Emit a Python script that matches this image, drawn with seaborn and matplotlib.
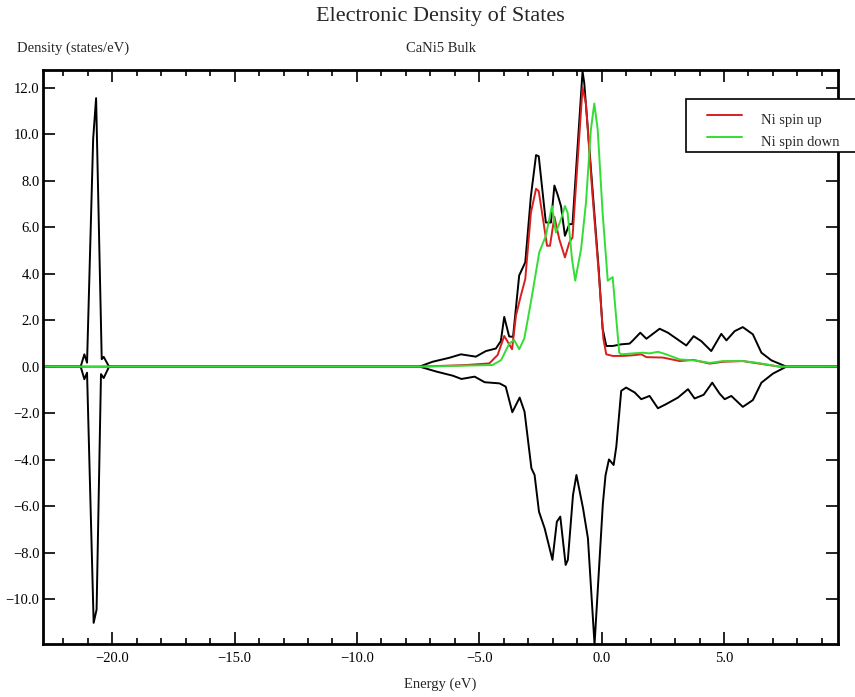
import numpy as np
import pandas as pd
import matplotlib
matplotlib.use("Agg")
import matplotlib.pyplot as plt
import seaborn as sns
from matplotlib.ticker import MultipleLocator, FuncFormatter
from matplotlib.legend_handler import HandlerLine2D
from matplotlib.patches import Rectangle

# ---- density of states data (energies in eV, densities in states/eV) ----
energy_total_up = [-23.0, -21.29, -21.14, -21.03, -20.78, -20.66, -20.43, -20.35, -20.13,
                   -7.45, -6.91, -6.23, -5.75, -5.14, -4.73, -4.32, -4.12, -3.98, -3.78,
                   -3.62, -3.37, -3.12, -2.89, -2.68, -2.57, -2.28, -2.07, -1.93, -1.80,
                   -1.66, -1.50, -1.32, -1.19, -0.78, -0.71, -0.37, -0.12, 0.04, 0.19,
                   0.46, 0.80, 1.14, 1.28, 1.58, 1.83, 2.37, 2.71, 3.46, 3.76, 4.07, 4.48,
                   4.89, 5.10, 5.44, 5.77, 6.18, 6.53, 6.94, 7.55, 10.0]
dos_total_up = [0.0, 0.0, 0.53, 0.17, 9.8, 11.55, 0.32, 0.42, 0.0,
                0.0, 0.21, 0.38, 0.53, 0.43, 0.67, 0.78, 1.1, 2.14, 1.3,
                1.28, 3.92, 4.49, 7.34, 9.1, 9.05, 6.2, 6.2, 7.79, 7.4,
                6.9, 5.63, 6.13, 6.13, 12.7, 12.2, 7.6, 4.2, 1.64, 0.89,
                0.89, 0.96, 0.99, 1.13, 1.46, 1.2, 1.63, 1.46, 0.91, 1.31, 1.1, 0.67,
                1.41, 1.13, 1.53, 1.7, 1.39, 0.6, 0.27, 0.0, 0.0]

energy_total_down = [-23.0, -21.29, -21.14, -21.03, -20.76, -20.64, -20.46, -20.35, -20.13,
                     -7.44, -6.76, -6.08, -5.73, -5.19, -4.78, -4.17, -3.92, -3.65, -3.35,
                     -3.15, -2.87, -2.74, -2.56, -2.33, -2.01, -1.83, -1.69, -1.47, -1.38,
                     -1.17, -1.03, -0.76, -0.56, -0.29, 0.05, 0.16, 0.30, 0.49, 0.60,
                     0.80, 1.0, 1.35, 1.62, 1.96, 2.30, 2.64, 3.12, 3.53, 3.80, 4.17,
                     4.52, 4.82, 5.03, 5.30, 5.77, 6.18, 6.53, 7.0, 7.55, 10.0]
dos_total_down = [0.0, 0.0, 0.54, 0.26, 11.02, 10.45, 0.32, 0.49, 0.0,
                  0.0, 0.21, 0.39, 0.53, 0.43, 0.67, 0.72, 0.86, 1.96, 1.33,
                  1.94, 4.37, 4.66, 6.24, 6.95, 8.31, 6.67, 6.45, 8.53, 8.31,
                  5.52, 4.66, 6.09, 7.38, 11.95, 5.9, 4.67, 3.99, 4.23, 3.44,
                  1.04, 0.9, 1.11, 1.4, 1.26, 1.79, 1.61, 1.33, 0.97, 1.37, 1.21,
                  0.69, 1.16, 1.4, 1.26, 1.73, 1.44, 0.69, 0.3, 0.0, 0.0]

energy_ni_up = [-23.0, -7.45, -5.54, -4.59, -4.25, -3.98, -3.66, -3.50, -3.30, -3.12,
                -2.89, -2.68, -2.57, -2.23, -2.11, -1.93, -1.73, -1.50, -1.32, -1.19,
                -0.78, -0.64, -0.37, -0.12, 0.07, 0.19, 0.46, 0.84, 1.28, 1.62, 1.83,
                2.51, 3.19, 3.74, 4.42, 4.96, 5.77, 6.45, 7.27, 10.0]
dos_ni_up = [0.0, 0.0, 0.07, 0.14, 0.5, 1.32, 0.75, 2.2, 3.06, 3.77,
             6.62, 7.65, 7.55, 5.2, 5.2, 6.45, 5.48, 4.7, 5.34, 5.56,
             12.0, 11.3, 7.34, 4.06, 1.21, 0.53, 0.46, 0.46, 0.49, 0.53, 0.41,
             0.39, 0.24, 0.29, 0.13, 0.21, 0.24, 0.13, 0.0, 0.0]

energy_ni_down = [-23.0, -7.45, -4.46, -4.11, -3.77, -3.57, -3.37, -3.16, -2.89, -2.55,
                  -2.28, -2.03, -1.87, -1.66, -1.50, -1.39, -1.21, -1.08, -0.84, -0.64,
                  -0.44, -0.30, -0.16, 0.04, 0.25, 0.45, 0.72, 0.80, 1.28, 1.69, 1.96,
                  2.30, 2.64, 3.19, 3.80, 4.42, 4.96, 5.77, 6.32, 7.27, 10.0]
dos_ni_down = [0.0, 0.0, 0.07, 0.28, 1.0, 1.14, 0.75, 1.21, 2.78, 4.91,
               5.63, 6.91, 5.77, 6.34, 6.91, 6.62, 4.63, 3.7, 5.06, 7.05,
               10.19, 11.32, 10.19, 6.62, 3.7, 3.85, 0.6, 0.53, 0.57, 0.6, 0.57,
               0.64, 0.53, 0.31, 0.27, 0.16, 0.24, 0.24, 0.17, 0.0, 0.0]

legend_labels = ["Ni spin up", "Ni spin down"]

# ---- style ----
sns.set_style("ticks")
plt.rcParams["font.family"] = ["Liberation Serif", "DejaVu Serif"]
plt.rcParams["axes.unicode_minus"] = True

W, H = 855, 697
fig = plt.figure(figsize=(W / 100, H / 100), dpi=100)
left, right, top, bottom = 43, 838, 70, 644
ax = fig.add_axes([left / W, 1 - bottom / H, (right - left) / W, (bottom - top) / H])

total_up = pd.DataFrame({"energy": energy_total_up, "dos": dos_total_up})
total_dn = pd.DataFrame({"energy": energy_total_down, "dos": -np.asarray(dos_total_down)})
ni_up = pd.DataFrame({"energy": energy_ni_up, "dos": dos_ni_up})
ni_dn = pd.DataFrame({"energy": energy_ni_down, "dos": dos_ni_down})

line_kw = dict(x="energy", y="dos", sort=False, estimator=None, ax=ax, linewidth=1.4, legend=False)
sns.lineplot(data=total_up, color="black", **line_kw)
sns.lineplot(data=total_dn, color="black", **line_kw)
sns.lineplot(data=ni_up, color="#d81f1d", **line_kw)
sns.lineplot(data=ni_dn, color="#33dd33", **line_kw)

ax.set_xlim(-22.83, 9.66)
ax.set_ylim(-11.93, 12.76)

fmt = FuncFormatter(lambda v, p: f"{v + 0.0:.1f}".replace("-", "\u2212"))
ax.xaxis.set_major_locator(MultipleLocator(5))
ax.xaxis.set_minor_locator(MultipleLocator(1))
ax.yaxis.set_major_locator(MultipleLocator(2))
ax.xaxis.set_major_formatter(fmt)
ax.yaxis.set_major_formatter(fmt)
ax.tick_params(which="both", direction="in", top=True, right=True, width=1.2,
               labelsize=10.5, colors="black")
ax.tick_params(which="major", length=8.5)
ax.tick_params(which="minor", length=4.5)
ax.tick_params(axis="x", which="major", pad=6)
ax.tick_params(axis="y", which="major", pad=2.5)
for sp in ax.spines.values():
    sp.set_linewidth(2.0)
    sp.set_color("black")

# titles and axis labels
fig.suptitle("Electronic Density of States", x=(left + right) / 2 / W, y=1 - 16 / H,
             va="center", fontsize=16)
ax.set_title("CaNi5 Bulk", fontsize=10.5, pad=0, y=1 + (top - 48) / (bottom - top), va="center")
ax.set_ylabel("Density (states/eV)", rotation=0, ha="left", va="center", fontsize=10.5)
ax.yaxis.set_label_coords((17 - left) / (right - left), 1 + (top - 48) / (bottom - top))
ax.set_xlabel("Energy (eV)", fontsize=10.5, va="center")
ax.xaxis.set_label_coords(0.5, -(684 - bottom) / (bottom - top))


class InsetLine(HandlerLine2D):
    """Legend line drawn in the right part of the handle area, level with the cap height."""
    def get_xdata(self, legend, xdescent, ydescent, width, height, fontsize):
        x0 = -xdescent + width * 0.28
        x1 = -xdescent + width
        return np.array([x0, x1]), np.array([x0, x1])

    def create_artists(self, legend, orig_handle, xdescent, ydescent, width, height,
                       fontsize, trans):
        arts = super().create_artists(legend, orig_handle, xdescent, ydescent, width,
                                      height, fontsize, trans)
        for a in arts:
            a.set_ydata(np.asarray(a.get_ydata()) + 0.3 * fontsize)
        return arts


# legend box: white panel running off the right edge of the figure
box = Rectangle((686 / W, 1 - 152 / H), 200 / W, 53 / H, transform=fig.transFigure,
                facecolor="white", edgecolor="black", linewidth=1.2, clip_on=False, zorder=9)
ax.add_patch(box)

handles = [ax.lines[2], ax.lines[3]]
leg = ax.legend(handles, legend_labels, loc="upper left",
                bbox_to_anchor=(686 / W, 1 - 106 / H), bbox_transform=fig.transFigure,
                borderaxespad=0, frameon=False, fontsize=10.5, borderpad=0.55,
                handlelength=3.3, handletextpad=1.3, labelspacing=0.62,
                handler_map={matplotlib.lines.Line2D: InsetLine()})
leg.set_zorder(10)

fig.savefig("out.png", dpi=100)
